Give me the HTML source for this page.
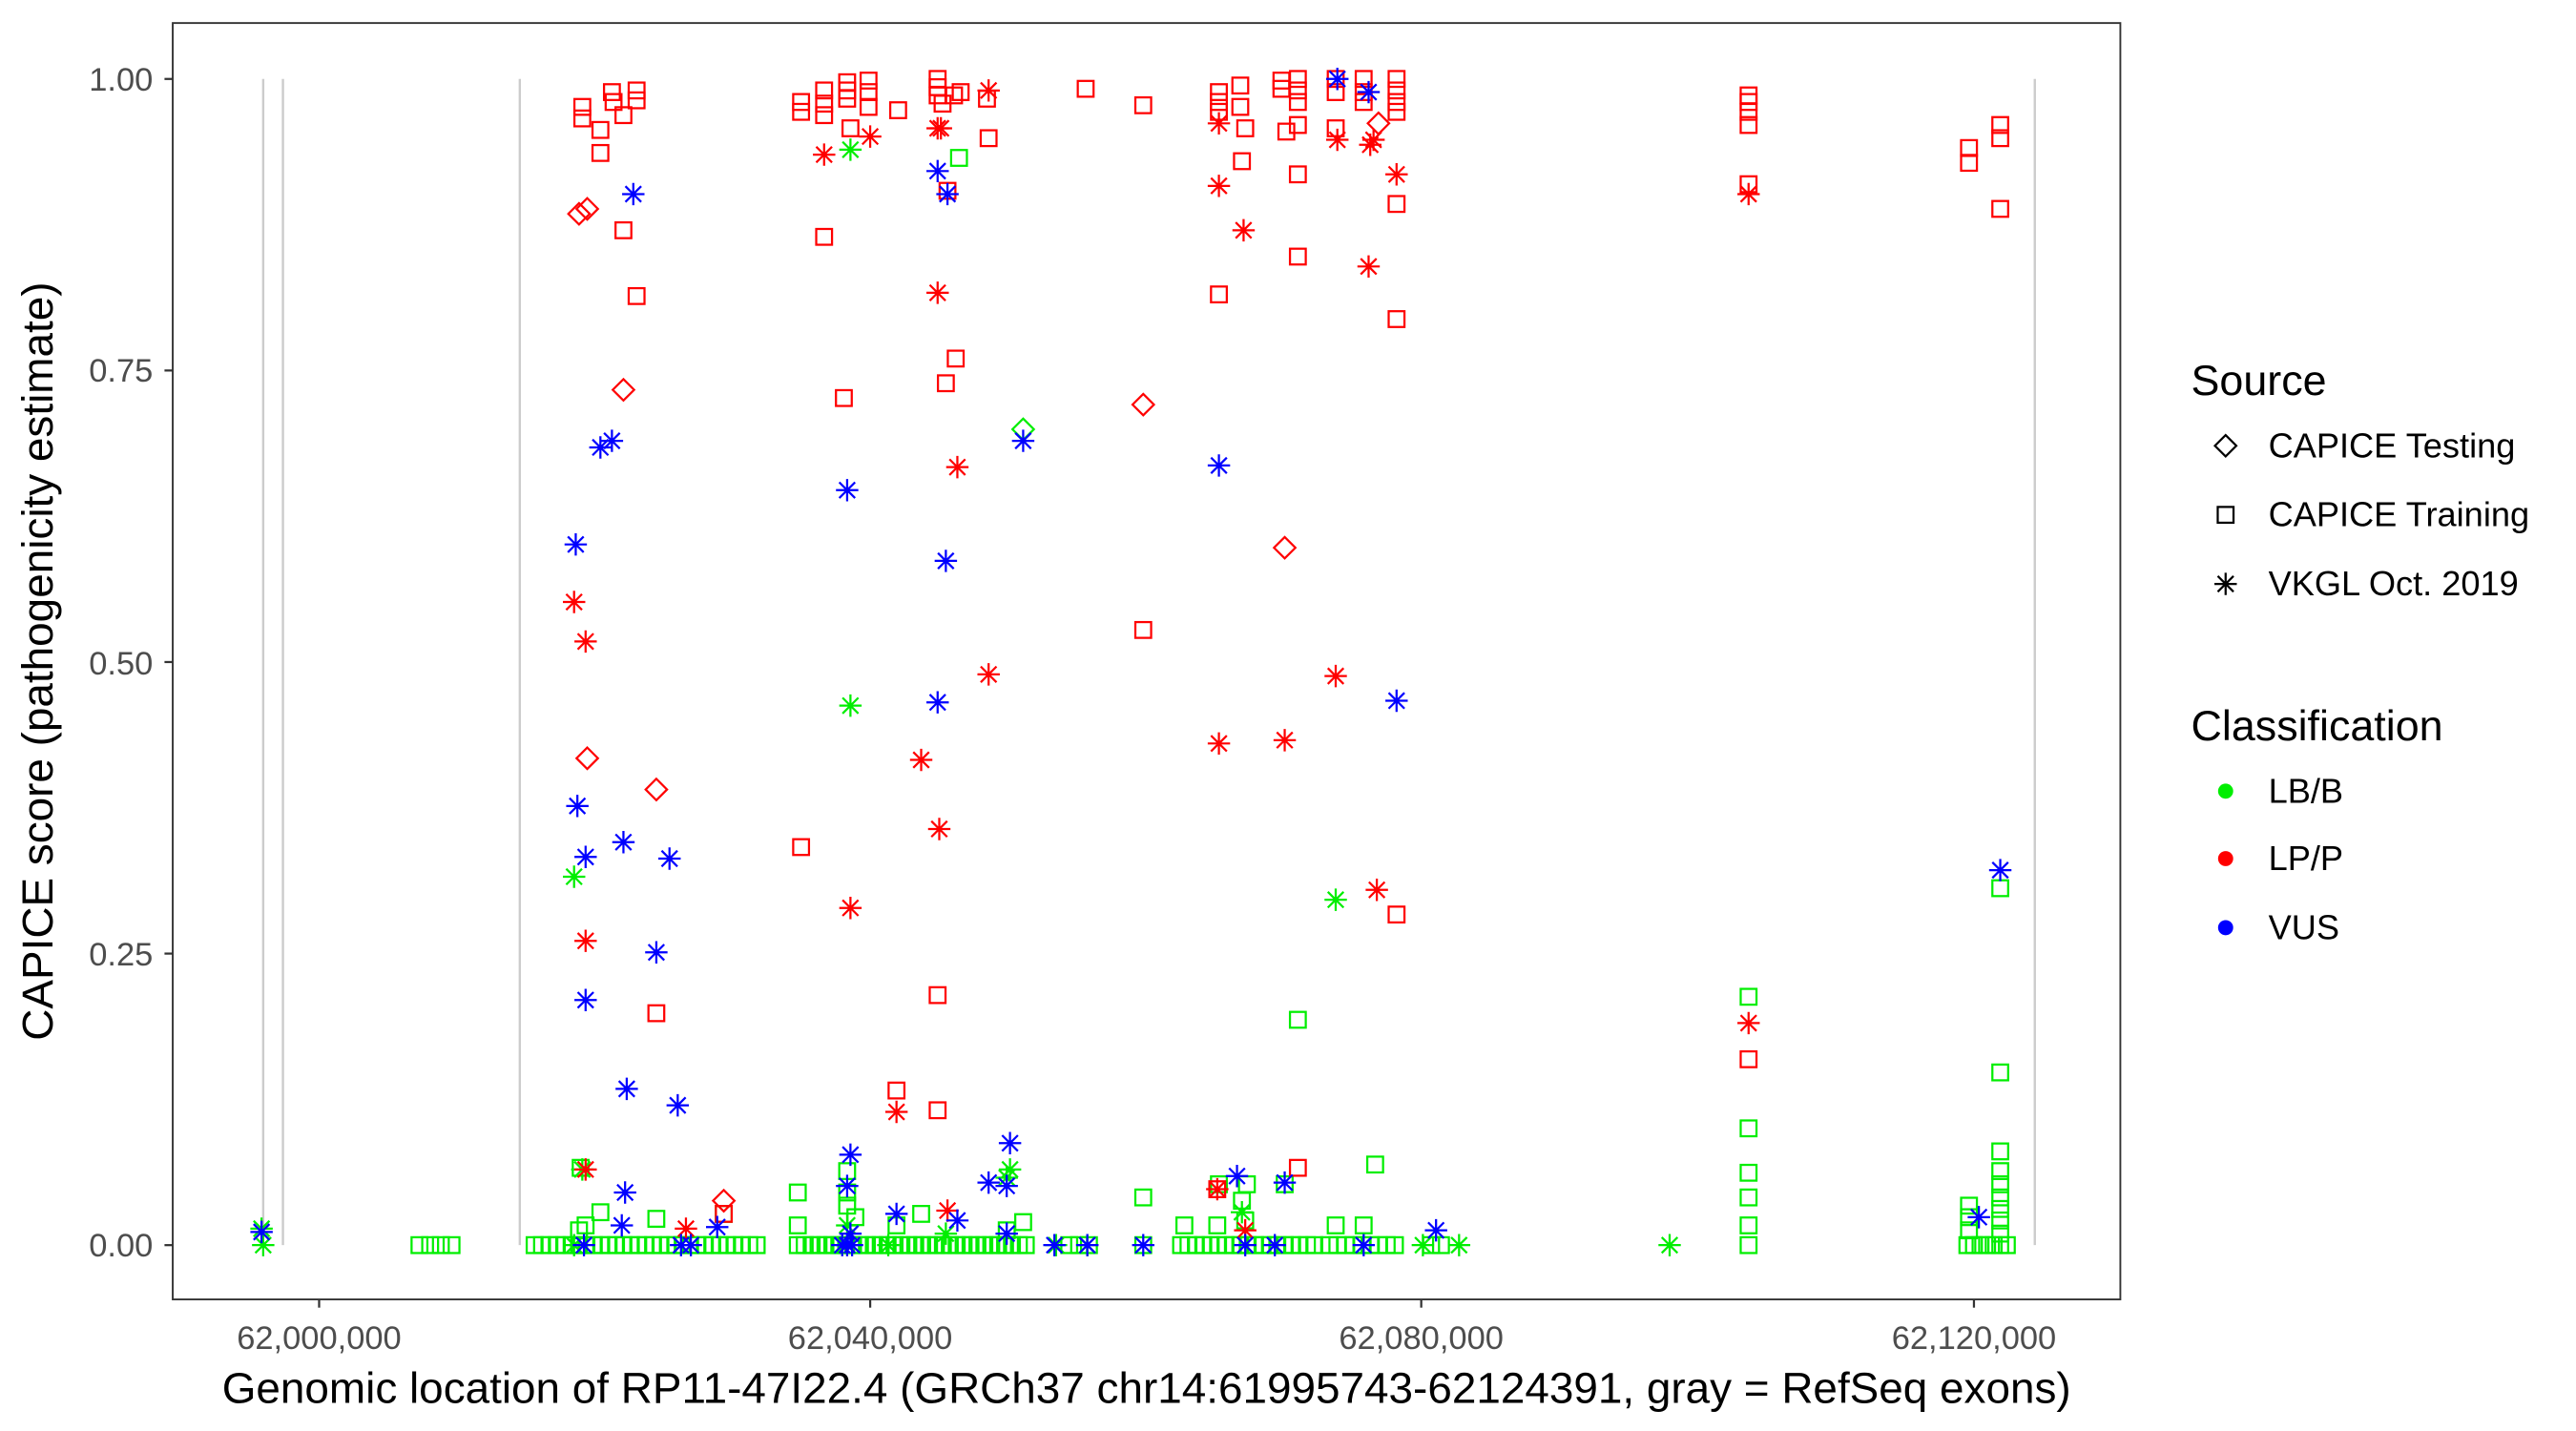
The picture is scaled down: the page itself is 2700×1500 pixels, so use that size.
<!DOCTYPE html>
<html><head><meta charset="utf-8"><style>
html,body{margin:0;padding:0;background:#fff;}
svg{display:block;}
text{font-family:"Liberation Sans",sans-serif;}
</style></head><body>
<svg id="s" width="2700" height="1500" viewBox="0 0 1566 870" preserveAspectRatio="none" xmlns="http://www.w3.org/2000/svg">
<defs>
<g id="sq"><rect x="-4.8" y="-4.8" width="9.6" height="9.6" fill="none" stroke-width="1.3"/></g>
<g id="di"><path d="M0,-6.5 L6.5,0 L0,6.5 L-6.5,0 Z" fill="none" stroke-width="1.3"/></g>
<g id="as"><path d="M0,-6.8 V6.8 M-6.8,0 H6.8 M-4.8,-4.8 L4.8,4.8 M-4.8,4.8 L4.8,-4.8" fill="none" stroke-width="1.3"/></g>
</defs>
<rect x="105" y="14" width="1184" height="776" fill="#fff" stroke="#333" stroke-width="1.1"/>
<g stroke="#cccccc" stroke-width="1.4">
<line x1="160" y1="48" x2="160" y2="757"/><line x1="172" y1="48" x2="172" y2="757"/>
<line x1="316" y1="48" x2="316" y2="757"/><line x1="1237" y1="48" x2="1237" y2="757"/>
</g>
<g id="pts"></g>
<g stroke="#333" stroke-width="1.3">
<line x1="100" y1="48" x2="105" y2="48"/><line x1="100" y1="225.25" x2="105" y2="225.25"/><line x1="100" y1="402.5" x2="105" y2="402.5"/><line x1="100" y1="579.75" x2="105" y2="579.75"/><line x1="100" y1="757" x2="105" y2="757"/>
<line x1="194" y1="790" x2="194" y2="795"/><line x1="529" y1="790" x2="529" y2="795"/><line x1="864" y1="790" x2="864" y2="795"/><line x1="1200" y1="790" x2="1200" y2="795"/>
</g>
<g font-size="20" fill="#4d4d4d" text-anchor="end">
<text x="93" y="55">1.00</text><text x="93" y="232">0.75</text><text x="93" y="410">0.50</text><text x="93" y="587">0.25</text><text x="93" y="764">0.00</text>
</g>
<g font-size="20" fill="#4d4d4d" text-anchor="middle">
<text x="194" y="820">62,000,000</text><text x="529" y="820">62,040,000</text><text x="864" y="820">62,080,000</text><text x="1200" y="820">62,120,000</text>
</g>
<text x="697" y="853" font-size="26.6" text-anchor="middle" fill="#000">Genomic location of RP11-47I22.4 (GRCh37 chr14:61995743-62124391, gray = RefSeq exons)</text>
<text transform="translate(32,402) rotate(-90)" font-size="26.6" text-anchor="middle" fill="#000">CAPICE score (pathogenicity estimate)</text>
<text x="1332" y="240" font-size="26">Source</text>
<use href="#di" x="1353" y="271" stroke="#000"/>
<use href="#sq" x="1353" y="313" stroke="#000"/>
<use href="#as" x="1353" y="355" stroke="#000"/>
<text x="1379" y="278" font-size="21">CAPICE Testing</text>
<text x="1379" y="320" font-size="21">CAPICE Training</text>
<text x="1379" y="362" font-size="21">VKGL Oct. 2019</text>
<text x="1332" y="450" font-size="26">Classification</text>
<circle cx="1353" cy="481" r="4.6" fill="#00ee00"/>
<circle cx="1353" cy="522" r="4.6" fill="#ff0000"/>
<circle cx="1353" cy="564" r="4.6" fill="#0000ff"/>
<text x="1379" y="488" font-size="21">LB/B</text>
<text x="1379" y="529" font-size="21">LP/P</text>
<text x="1379" y="571" font-size="21">VUS</text>
</svg>
<script>
var C={g:"#00ee00",r:"#ff0000",b:"#0000ff"};
var P=[];
function add(list,shape,col){list.forEach(function(p){P.push([p[0],p[1],shape,col]);});}
var gx=[];
[[255,275,6.5],[325,460,4.5],[485,625,4.2],[650,662,6],[695,700,10],[718,800,4.5],[808,852,5],[870,876,6],[1063,1064,5],[1196,1220,4]].forEach(function(r){for(var x=r[0];x<=r[1];x+=r[2])gx.push([x,757]);});
add(gx,"sq","g");
add([[789,620],[1063,606],[1063,686],[1063,713],[1063,728],[1063,745],[1216,540],[1216,652],[1216,700],[1216,712],[1216,720],[1216,728],[1216,735],[1216,742],[1216,750],[1197,733],[1197,740],[1197,748],[365,737],[399,741],[485,725],[485,745],[515,733],[520,740],[545,745],[560,738],[622,743],[695,728],[720,745],[741,720],[755,730],[757,742],[781,720],[836,708],[829,745],[812,745],[583,96],[440,738],[352,748],[356,745],[515,712],[515,725],[353,710],[740,745],[758,720],[612,748]],"sq","g");
add([[622,261]],"di","g");
add([[517,91],[517,429],[349,533],[812,547],[159,747],[160,757],[349,757],[354,711],[614,711],[612,716],[642,757],[661,757],[865,757],[887,757],[1015,757],[515,745],[575,750],[755,737],[540,757]],"as","g");
add([[354,65],[354,72],[365,79],[365,93],[372,56],[373,62],[379,70],[387,55],[387,61],[379,140],[387,180],[487,62],[487,68],[501,55],[501,63],[501,70],[515,50],[515,55],[515,60],[528,49],[528,56],[528,65],[517,78],[546,67],[570,48],[570,53],[570,58],[573,63],[580,58],[584,56],[600,60],[601,84],[660,54],[695,64],[741,56],[741,62],[741,68],[754,52],[754,65],[755,98],[757,78],[779,49],[779,54],[782,80],[789,48],[789,55],[789,62],[789,76],[789,106],[789,156],[812,48],[812,56],[812,78],[829,48],[829,56],[829,62],[849,48],[849,55],[849,62],[849,68],[849,124],[849,194],[1063,58],[1063,62],[1063,68],[1063,76],[1063,112],[1197,90],[1197,99],[1216,76],[1216,84],[1216,127],[501,144],[513,242],[576,116],[741,179],[581,218],[575,233],[695,383],[487,515],[849,556],[570,605],[399,616],[545,663],[570,675],[1063,644],[789,710],[440,738],[740,723]],"sq","r");
add([[352,130],[357,127],[379,237],[357,461],[399,480],[695,246],[781,333],[838,75],[440,730]],"di","r");
add([[501,94],[529,83],[570,78],[572,78],[601,55],[741,75],[741,113],[756,140],[813,85],[833,88],[835,85],[849,106],[832,162],[570,178],[349,366],[356,390],[582,284],[601,410],[812,411],[560,462],[741,452],[781,450],[571,504],[517,552],[837,541],[356,572],[545,676],[1063,622],[1063,118],[356,711],[417,747],[740,723],[757,748],[576,736]],"as","r");
add([[385,118],[365,272],[372,268],[350,331],[515,298],[575,341],[622,268],[741,283],[351,490],[356,521],[379,512],[407,522],[399,579],[356,608],[381,662],[412,672],[517,702],[570,427],[849,426],[1216,529],[576,118],[570,104],[614,695],[601,719],[612,721],[515,721],[752,715],[781,719],[380,725],[378,745],[355,757],[545,738],[582,742],[436,746],[515,757],[517,750],[612,750],[641,757],[661,757],[695,757],[757,757],[775,757],[829,757],[873,748],[1203,740],[813,48],[832,56],[159,749],[414,757],[420,757],[512,757],[518,757]],"as","b");
var g=document.getElementById("pts"),h="";
P.forEach(function(p){h+='<use href="#'+p[2]+'" x="'+p[0]+'" y="'+p[1]+'" stroke="'+C[p[3]]+'"/>';});
g.innerHTML=h;
</script>
</body></html>
